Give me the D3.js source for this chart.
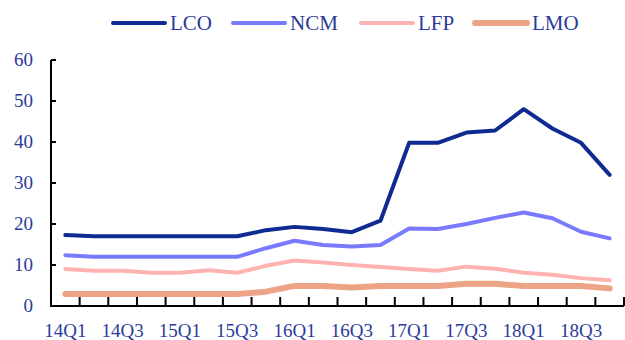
<!DOCTYPE html>
<html>
<head>
<meta charset="utf-8">
<script src="https://cdn.jsdelivr.net/npm/d3@7/dist/d3.min.js"></script>
<style>
  html, body { margin: 0; padding: 0; background: #fff; }
  svg { display: block; }
</style>
</head>
<body>
<svg id="chart" width="625" height="340"></svg>
<script>
// Quarterly categories
const quarters = ["14Q1","14Q2","14Q3","14Q4","15Q1","15Q2","15Q3","15Q4",
                  "16Q1","16Q2","16Q3","16Q4","17Q1","17Q2","17Q3","17Q4",
                  "18Q1","18Q2","18Q3","18Q4"];

// Series values per quarter
const LCO = [17.3, 17, 17, 17, 17, 17, 17, 18.5, 19.3, 18.8, 18, 20.8,
             39.8, 39.8, 42.3, 42.8, 48, 43.3, 39.8, 32];
const NCM = [12.4, 12, 12, 12, 12, 12, 12, 14.1, 15.9, 14.9, 14.5, 14.9,
             18.9, 18.8, 20, 21.5, 22.8, 21.4, 18.1, 16.5];
const LFP = [9.0, 8.6, 8.6, 8.1, 8.1, 8.7, 8.1, 9.8, 11.1, 10.6, 10.0, 9.5,
             9.0, 8.6, 9.6, 9.1, 8.1, 7.6, 6.8, 6.3];
const LMO = [2.9, 2.9, 2.9, 2.9, 2.9, 2.9, 2.9, 3.5, 4.9, 4.9, 4.5, 4.9,
             4.9, 4.9, 5.4, 5.4, 4.9, 4.9, 4.9, 4.3];

const seriesNames = ["LCO", "NCM", "LFP", "LMO"];
const yTicks = [0, 10, 20, 30, 40, 50, 60];
const xTickLabels = ["14Q1","14Q3","15Q1","15Q3","16Q1","16Q3","17Q1","17Q3","18Q1","18Q3"];

const series = [
  { name: "LCO", values: LCO, color: "#0f2b91", width: 4 },
  { name: "NCM", values: NCM, color: "#7a7aff", width: 4 },
  { name: "LFP", values: LFP, color: "#ffb3b0", width: 4 },
  { name: "LMO", values: LMO, color: "#eca386", width: 6 }
];

const svg = d3.select("#chart");
const textColor = "#2b3b9a";
const font = "'Liberation Serif', 'Times New Roman', serif";

const x = d3.scaleBand().domain(quarters).range([51, 624]);
const y = d3.scaleLinear().domain([0, 60]).range([306, 60]);

// Y axis: line, inward ticks, labels
const yAxis = svg.append("g");
yAxis.append("line")
  .attr("x1", 51).attr("x2", 51)
  .attr("y1", y(60)).attr("y2", y(0))
  .attr("stroke", "#000").attr("stroke-width", 2);
yAxis.selectAll("line.tick").data(yTicks).join("line")
  .attr("class", "tick")
  .attr("x1", 51).attr("x2", 56)
  .attr("y1", d => y(d)).attr("y2", d => y(d))
  .attr("stroke", "#000").attr("stroke-width", 2);
yAxis.selectAll("text").data(yTicks).join("text")
  .attr("x", 33).attr("y", d => y(d))
  .attr("dy", "0.34em")
  .attr("text-anchor", "end")
  .attr("font-family", font).attr("font-size", 19)
  .attr("fill", textColor)
  .text(d => d);

// X axis: line, inward ticks at category boundaries, labels
const xAxis = svg.append("g");
xAxis.append("line")
  .attr("x1", 50).attr("x2", 624)
  .attr("y1", y(0)).attr("y2", y(0))
  .attr("stroke", "#000").attr("stroke-width", 2);
const boundaries = quarters.map(q => x(q) + x.bandwidth()).slice(0);
xAxis.selectAll("line.tick").data(boundaries).join("line")
  .attr("class", "tick")
  .attr("x1", d => d).attr("x2", d => d)
  .attr("y1", y(0)).attr("y2", y(0) - 9)
  .attr("stroke", "#000").attr("stroke-width", 2);
xAxis.selectAll("text").data(xTickLabels).join("text")
  .attr("x", d => x(d) + x.bandwidth() / 2)
  .attr("y", 337)
  .attr("text-anchor", "middle")
  .attr("font-family", font).attr("font-size", 19)
  .attr("fill", textColor)
  .text(d => d);

// Lines
const line = d3.line()
  .x((d, i) => x(quarters[i]) + x.bandwidth() / 2)
  .y(d => y(d));

// Draw bottom series first so LCO sits on top
[...series].reverse().forEach(s => {
  svg.append("path")
    .datum(s.values)
    .attr("d", line)
    .attr("fill", "none")
    .attr("stroke", s.color)
    .attr("stroke-width", s.width)
    .attr("stroke-linejoin", "round")
    .attr("stroke-linecap", "round");
});

// Legend
const legendX = [113, 233, 361, 475];
const legend = svg.append("g");
series.forEach((s, i) => {
  const lx = legendX[i];
  legend.append("line")
    .attr("x1", lx).attr("x2", lx + 52)
    .attr("y1", 23).attr("y2", 23)
    .attr("stroke", s.color).attr("stroke-width", s.width)
    .attr("stroke-linecap", "round");
  legend.append("text")
    .attr("x", lx + 57).attr("y", 30)
    .attr("font-family", font).attr("font-size", 21)
    .attr("fill", textColor)
    .text(seriesNames[i]);
});
</script>
</body>
</html>
